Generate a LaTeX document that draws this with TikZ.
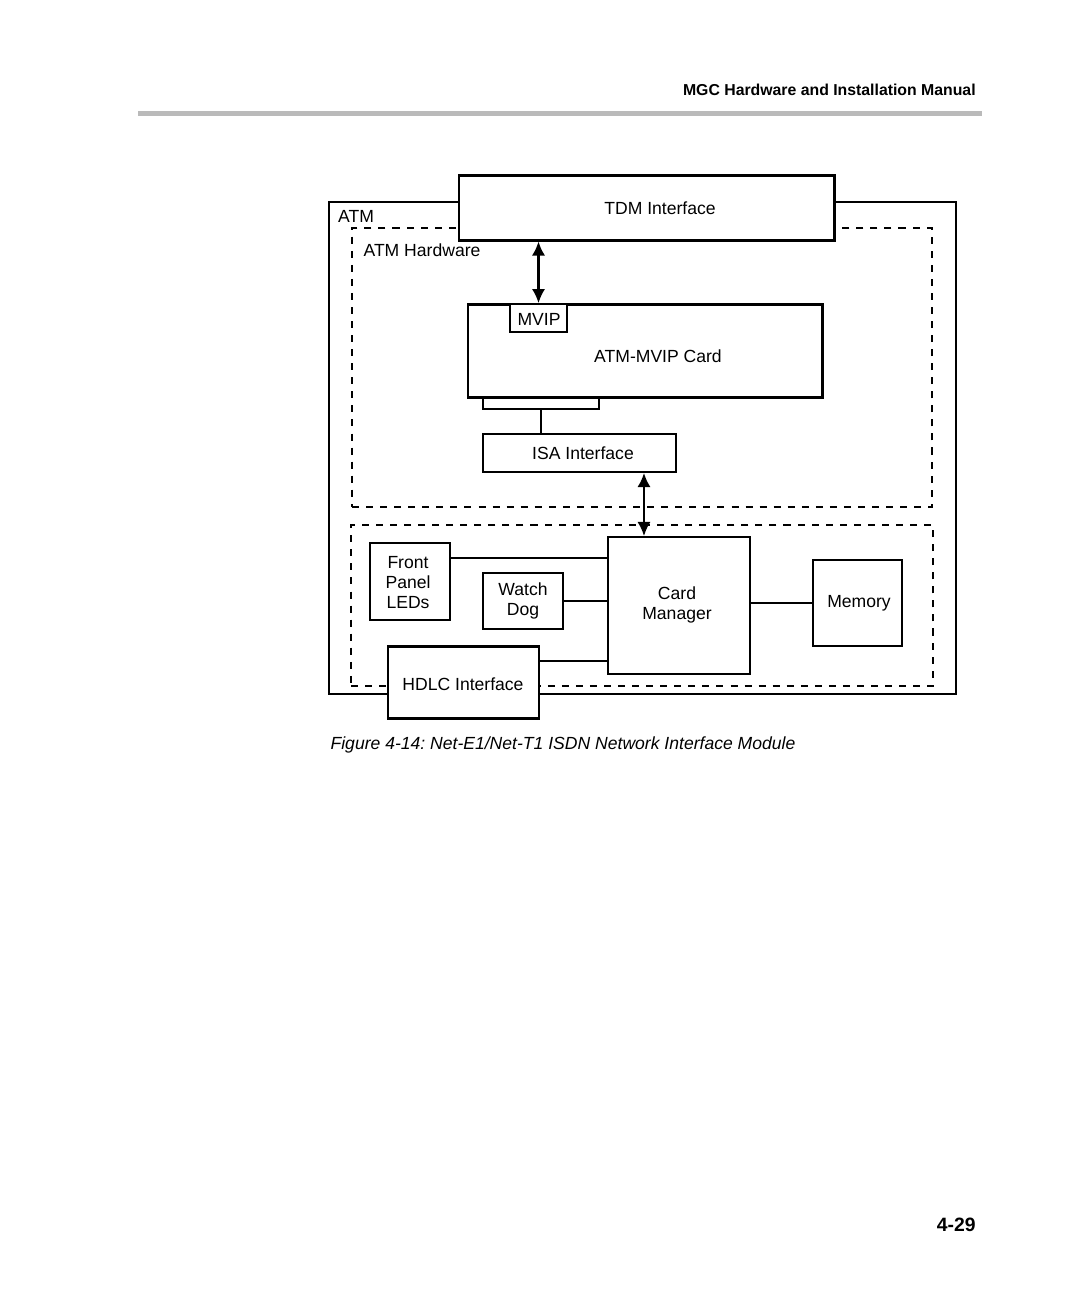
\documentclass[tikz,border=0pt]{standalone}
\usepackage{fontspec}
\setmainfont{Liberation Sans}
\usetikzlibrary{fit,arrows.meta}
\frenchspacing
\begin{document}
\begin{tikzpicture}[x=0.02cm,y=-0.02cm,
 every node/.style={font=\fontsize{10}{11.4}\selectfont},
 boxa/.style={draw, line width=1.1pt, fill=white, inner sep=0pt},
 boxb/.style={draw, line width=1.7pt, fill=white, inner sep=0pt},
 dashbox/.style={draw, line width=0.85pt, dash pattern=on 4pt off 4pt, inner sep=0pt},
 conn/.style={line width=0.9pt},
 dbl/.style={line width=1.2pt, {Latex[length=8pt,width=7.5pt]}-{Latex[length=8pt,width=7.5pt]}},
 txt/.style={inner sep=0pt, align=center}]
\fill[white] (0,0) rectangle (1080,1306);
\useasboundingbox (0,0) rectangle (1080,1306);
% header
\node[txt, anchor=east, font=\fontsize{9}{10}\selectfont\bfseries] (hdr) at (976,90) {MGC Hardware and Installation Manual};
\fill[black!27] (138,111) rectangle (982,116);
% containers
\node[draw, line width=1.1pt, inner sep=0pt, fit={(329,202)(956,694)}] (atm) {};
\node[dashbox, fit={(352,228)(932,507)}] (hw) {};
\node[dashbox, fit={(351,525)(933,686)}] (mgr) {};
\node[txt] (atmt) at (356,216) {ATM};
\node[txt] (hwt) at (422,250) {ATM Hardware};
% upper part
\node[boxb, fit={(459,175)(834,240)}] (tdm) {};
\node[txt] (tdmt) at (660,208) {TDM Interface};
\node[boxa, fit={(483,397)(599,409)}] (bar) {};
\node[boxb, fit={(468,304)(822,397)}] (card) {};
\node[txt] (cardt) at (658,356) {ATM-MVIP Card};
\node[boxa, line width=1pt, fit={(510,304)(567,332)}] (mvip) {};
\node[txt] (mvipt) at (539,319) {MVIP};
\node[boxa, fit={(483,434)(676,472)}] (isa) {};
\node[txt] (isat) at (583,453) {ISA Interface};
% lower part
\node[boxa, fit={(370,543)(450,620)}] (fp) {};
\node[txt] (fpt) at (408,583) {Front\\Panel\\LEDs};
\node[boxa, fit={(483,573)(563,629)}] (wd) {};
\node[txt] (wdt) at (523,601) {Watch\\Dog};
\node[boxa, fit={(608,537)(750,674)}] (cm) {};
\node[txt] (cmt) at (677,605) {Card\\Manager};
\node[boxa, fit={(813,560)(902,646)}] (mem) {};
\node[txt] (memt) at (859,603) {Memory};
\node[boxb, fit={(388,646)(539,718)}] (hdlc) {};
\node[txt] (hdlct) at (463,684) {HDLC Interface};
% connectors
\draw[dbl] (mvip.north |- tdm.south) -- (mvip.north);
\draw[conn] (bar.south) -- (bar.south |- isa.north);
\draw[dbl] ([xshift=1.29cm]isa.south) -- ([xshift=1.29cm]isa.south |- cm.north);
\draw[conn] ([yshift=0.47cm]fp.east) -- ([yshift=0.47cm]fp.east -| cm.west);
\draw[conn] (wd.east) -- (wd.east -| cm.west);
\draw[conn] ([yshift=0.42cm]hdlc.east) -- ([yshift=0.42cm]hdlc.east -| cm.west);
\draw[conn] (mem.west) -- (mem.west -| cm.east);
% caption and page number
\node[txt, font=\fontsize{10}{12}\selectfont\itshape] (cap) at (563,745) {Figure 4-14: Net-E1/Net-T1 ISDN Network Interface Module};
\node[txt, anchor=east, font=\fontsize{11}{13}\selectfont\bfseries] (pg) at (976,1225) {4-29};
\end{tikzpicture}
\end{document}
